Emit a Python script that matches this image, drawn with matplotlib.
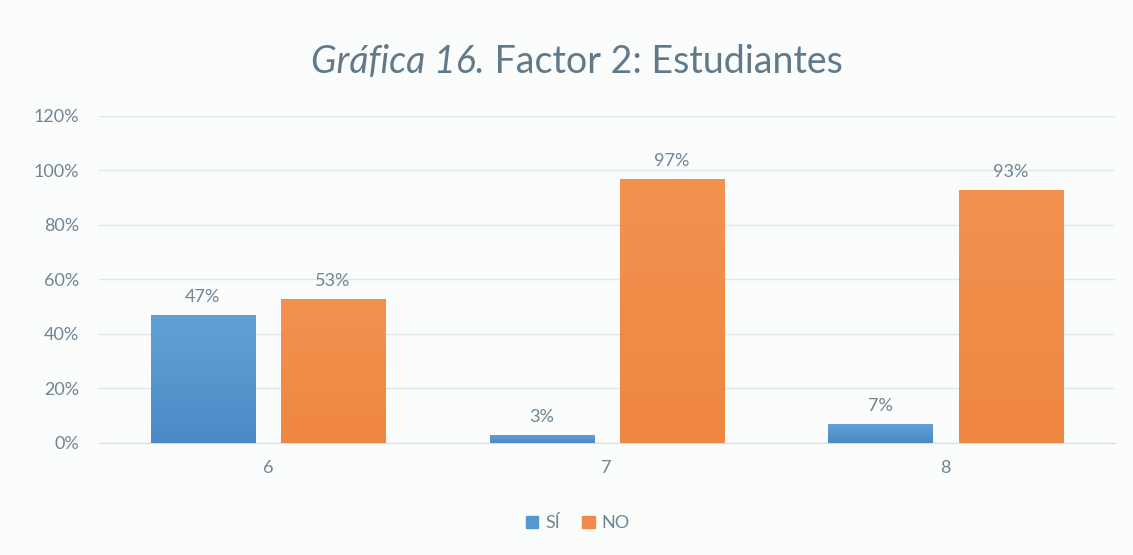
import numpy as np
import matplotlib.pyplot as plt
from matplotlib.colors import LinearSegmentedColormap
from matplotlib.patches import Patch

categories = ['6', '7', '8']
si_values = [47, 3, 7]
no_values = [53, 97, 93]
series_names = ['SÍ', 'NO']
yticks = [0, 20, 40, 60, 80, 100, 120]

plt.rcParams['font.family'] = ['Lato', 'DejaVu Sans']
text_col = '#6f8594'

fig = plt.figure(figsize=(11.33, 5.55), dpi=100, facecolor='#fbfcfc')
ax = fig.add_axes([0.087, 0.202, 0.897, 0.589])
ax.set_facecolor('#fbfcfc')

x = np.arange(len(categories))
width = 0.307
offset = 0.192

blue_cmap = LinearSegmentedColormap.from_list('b', ['#4a8ac6', '#60a2d7'])
orange_cmap = LinearSegmentedColormap.from_list('o', ['#ef8642', '#f3924f'])

bars_si = ax.bar(x - offset, si_values, width, color='#5597d0', zorder=2)
bars_no = ax.bar(x + offset, no_values, width, color='#f08a48', zorder=2)

# gradient fill clipped to each bar
grad = np.linspace(0, 1, 256).reshape(-1, 1)
for bars, cmap in [(bars_si, blue_cmap), (bars_no, orange_cmap)]:
    for b in bars:
        x0, y0 = b.get_x(), b.get_y()
        im = ax.imshow(grad, cmap=cmap, aspect='auto', origin='lower',
                       extent=[x0, x0 + b.get_width(), y0, y0 + b.get_height()],
                       zorder=3)
        im.set_clip_path(b)

for bars, vals in [(bars_si, si_values), (bars_no, no_values)]:
    for b, v in zip(bars, vals):
        ax.annotate(f'{v}%', (b.get_x() + b.get_width() / 2, v),
                    xytext=(0, 7), textcoords='offset points',
                    ha='center', va='bottom', fontsize=13, color=text_col)

ax.set_xlim(-0.5, 2.5)
ax.set_ylim(0, 120)
ax.set_yticks(yticks)
ax.set_yticklabels([f'{t}%' for t in yticks], fontsize=13, color=text_col)
ax.set_xticks(x)
ax.set_xticklabels(categories, fontsize=13, color=text_col)
ax.tick_params(length=0, pad=12)
ax.tick_params(axis='y', pad=14)
ax.grid(axis='y', color='#e1e8ea', linewidth=1, zorder=0)
ax.set_axisbelow(True)
for s in ['top', 'right', 'left']:
    ax.spines[s].set_visible(False)
ax.spines['bottom'].set_color('#d6dfe2')

fig.text(0.428, 0.889, 'Gráfica 16.', fontsize=27, color='#62798a',
         style='italic', ha='right', va='center')
fig.text(0.428, 0.889, ' Factor 2: Estudiantes', fontsize=27, color='#62798a',
         ha='left', va='center')

handles = [Patch(color='#5597d0'), Patch(color='#f08a48')]
fig.legend(handles, series_names, loc='center', bbox_to_anchor=(0.51, 0.057),
           ncol=2, frameon=False, fontsize=13, labelcolor=text_col,
           handlelength=0.7, handleheight=0.7, handletextpad=0.4,
           columnspacing=1.2)

fig.savefig('out.png', dpi=100, facecolor=fig.get_facecolor())
